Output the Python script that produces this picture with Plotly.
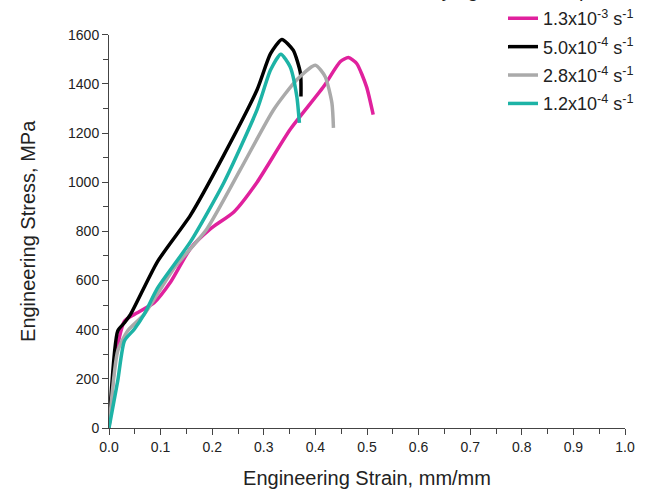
import plotly.graph_objects as go

labels = ["1.3x10<sup>-3</sup> s<sup>-1</sup>", "5.0x10<sup>-4</sup> s<sup>-1</sup>",
          "2.8x10<sup>-4</sup> s<sup>-1</sup>", "1.2x10<sup>-4</sup> s<sup>-1</sup>"]
colors = ["#e0219d", "#000000", "#aaaaaa", "#1db3a6"]

strain_m = [0.0, 0.0135, 0.03, 0.049, 0.087, 0.12, 0.158, 0.197, 0.242, 0.287, 0.351, 0.416, 0.448, 0.464, 0.48, 0.499, 0.512]
stress_m = [0, 302, 435, 462, 509, 596, 731, 811, 879, 1000, 1214, 1389, 1490, 1507, 1483, 1389, 1275]

strain_k = [0.0, 0.017, 0.03, 0.042, 0.094, 0.158, 0.222, 0.287, 0.313, 0.335, 0.357, 0.371, 0.372]
stress_k = [0, 395, 428, 463, 677, 866, 1108, 1376, 1523, 1581, 1537, 1443, 1349]

strain_g = [0.0, 0.017, 0.036, 0.068, 0.126, 0.19, 0.255, 0.319, 0.364, 0.4, 0.419, 0.432, 0.435]
stress_g = [0, 314, 395, 462, 650, 811, 1053, 1295, 1417, 1476, 1429, 1322, 1221]

strain_t = [0.0, 0.017, 0.03, 0.049, 0.068, 0.094, 0.158, 0.223, 0.287, 0.313, 0.333, 0.351, 0.364, 0.369]
stress_t = [0, 193, 355, 402, 462, 569, 758, 1000, 1295, 1456, 1521, 1470, 1349, 1241]

xs = [strain_m, strain_k, strain_g, strain_t]
ys = [stress_m, stress_k, stress_g, stress_t]

W, H = 653, 493
ML, MB = 109, 65
PW, PH = W - ML, H - MB          # paper area (no top/right margin)
plot_w, plot_h = 516, 397        # axes area in pixels

fig = go.Figure()
for i, (x, y, lab, c) in enumerate(zip(xs, ys, labels, colors)):
    fig.add_trace(go.Scatter(x=x, y=y, mode="lines", name=lab, legendgroup=f"g{i}",
                             line=dict(color=c, width=3.5, shape="spline", smoothing=0.6)))

axis_common = dict(showline=True, linecolor="#444", linewidth=1, ticks="outside",
                   ticklen=6, tickcolor="#444", showgrid=False, zeroline=False,
                   automargin=False,
                   tickfont=dict(family="Arial", size=14, color="#222"),
                   minor=dict(ticks="outside", ticklen=5, tickcolor="#444"))

fig.update_xaxes(range=[0, 1], dtick=0.1, tickformat=".1f", minor_dtick=0.05,
                 domain=[0, plot_w / PW],
                 title=dict(text="Engineering Strain, mm/mm", font=dict(family="Arial", size=20, color="#222"), standoff=17),
                 **axis_common)
fig.update_yaxes(range=[0, 1600], dtick=200, minor_dtick=100,
                 domain=[0, plot_h / PH],
                 title=dict(text="Engineering Stress, MPa", font=dict(family="Arial", size=20, color="#222"), standoff=27),
                 **axis_common)

fig.add_annotation(text="Varying Strain Temp", xref="paper", yref="paper",
                   x=(410 - ML) / PW, y=1 + 14 / PH, xanchor="left", yanchor="middle", showarrow=False,
                   font=dict(family="Arial", size=20, color="#222"))

fig.update_layout(width=W, height=H, plot_bgcolor="white", paper_bgcolor="white",
                  margin=dict(l=ML, r=0, t=0, b=MB),
                  legend=dict(x=(503 - ML) / PW, y=1.0 + 4 / PH, xanchor="left", yanchor="top",
                              font=dict(family="Arial", size=18, color="#222"),
                              bgcolor="rgba(0,0,0,0)", tracegroupgap=2))
fig.write_html("out.html", config={"displayModeBar": False},
               post_script="document.body.style.margin='0';document.body.style.overflow='hidden';")
